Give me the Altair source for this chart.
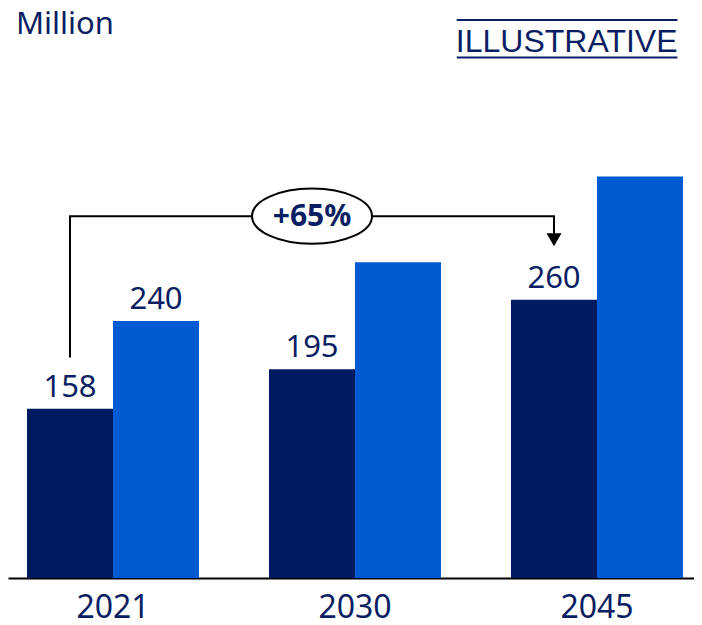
import altair as alt
import pandas as pd

# ---- data ----
years = ["2021", "2030", "2045"]
series_names = ["A", "B"]
values_a = [158, 195, 260]      # dark navy bars
values_b = [240, 295, 375]      # bright blue bars
labels_a = ["158", "195", "260"]
labels_b = ["240", "", ""]
growth_text = ["+65%"]
unit_text = ["Million"]
stamp_text = ["ILLUSTRATIVE"]

# bracket annotation (data units on the value axis)
bracket_years = ["2021", "2021", "2045", "2045"]
bracket_values = [206, 338, 338, 318]
arrow_year = ["2045"]
arrow_value = [316]
badge_year = ["2030"]
badge_value = [338]

DARK = "#001A61"
LIGHT = "#005BD3"
NAVY = "#0A1F63"
FONT = "Noto Sans"

rows = []
for i, yr in enumerate(years):
    rows.append({"year": yr, "series": "A", "value": values_a[i], "label": labels_a[i]})
    rows.append({"year": yr, "series": "B", "value": values_b[i], "label": labels_b[i]})
df = pd.DataFrame(rows)

W, H = 686, 570
YMAX = 532.5

xscale = alt.Scale(domain=years, paddingInner=0.2893, paddingOuter=0.062, align=0.633)
yscale = alt.Scale(domain=[0, YMAX], nice=False, zero=True)
xaxis = alt.Axis(title=None, labelAngle=0, ticks=False, domainColor="black",
                 domainWidth=2, labelFont=FONT, labelFontSize=32, labelColor=NAVY,
                 labelPadding=14, labelBaseline="top", grid=False)

x_main = alt.X("year:N", scale=xscale, axis=xaxis, sort=years)
y_main = alt.Y("value:Q", scale=yscale, axis=None)
x_off = alt.XOffset("series:N", scale=alt.Scale(domain=series_names, paddingInner=0, paddingOuter=0))

base = alt.Chart(df)
bars = base.mark_bar().encode(
    x=x_main, y=y_main, xOffset=x_off,
    color=alt.Color("series:N", scale=alt.Scale(domain=series_names, range=[DARK, LIGHT]), legend=None),
)
bar_labels = base.mark_text(dy=-12, baseline="alphabetic", align="center",
                            font=FONT, fontSize=31, color=NAVY).encode(
    x=x_main, y=y_main, xOffset=x_off, text="label:N"
)

x_q = alt.X("year:N", scale=xscale, axis=xaxis, sort=years, bandPosition=0.25)

br_df = pd.DataFrame({"year": bracket_years, "value": bracket_values, "order": list(range(len(bracket_years)))})
bracket = alt.Chart(br_df).mark_line(color="black", strokeWidth=2, strokeJoin="miter").encode(
    x=x_q, y=y_main, order="order:Q"
)

arrow_df = pd.DataFrame({"year": arrow_year, "value": arrow_value})
arrow = alt.Chart(arrow_df).mark_point(shape="triangle-down", size=225, filled=True,
                                       color="black", opacity=1).encode(x=x_q, y=y_main)

ELLIPSE = "M-1,0A1,0.46,0,1,1,1,0A1,0.46,0,1,1,-1,0Z"
badge_df = pd.DataFrame({"year": badge_year, "value": badge_value, "t": growth_text})
badge = alt.Chart(badge_df).mark_point(shape=ELLIPSE, size=14400, filled=True, fill="white",
                                       stroke="black", strokeWidth=2, opacity=1).encode(x=x_q, y=y_main)
badge_text = alt.Chart(badge_df).mark_text(font=FONT, fontSize=30, fontWeight="bold", color=NAVY,
                                           baseline="middle", align="center", dy=1).encode(
    x=x_q, y=y_main, text="t:N"
)

unit = alt.Chart(pd.DataFrame({"t": unit_text})).mark_text(
    font=FONT, fontSize=31, color=NAVY, align="left", baseline="alphabetic"
).encode(x=alt.value(8), y=alt.value(25.5), text="t:N")

stamp = alt.Chart(pd.DataFrame({"t": stamp_text})).mark_text(
    font="Liberation Sans", fontSize=32, color=NAVY, align="right", baseline="alphabetic"
).encode(x=alt.value(669.5), y=alt.value(44), text="t:N")

top_line = alt.Chart(pd.DataFrame({"k": [0]})).mark_rule(color=NAVY, strokeWidth=2).encode(
    x=alt.value(448.7), x2=alt.value(669.5), y=alt.value(12)
)
bottom_line = alt.Chart(pd.DataFrame({"k": [0]})).mark_rule(color=NAVY, strokeWidth=2).encode(
    x=alt.value(448.7), x2=alt.value(669.5), y=alt.value(49.5)
)

chart = alt.layer(
    bars, bar_labels, bracket, arrow, badge, badge_text, unit, stamp, top_line, bottom_line
).properties(
    width=W, height=H, background="white",
    padding={"top": 0, "left": 0, "right": 0, "bottom": 47},
    autosize=alt.AutoSizeParams(type="none"),
).configure_view(stroke=None)

chart.save("out.html", embed_options={"renderer": "svg", "actions": False})
